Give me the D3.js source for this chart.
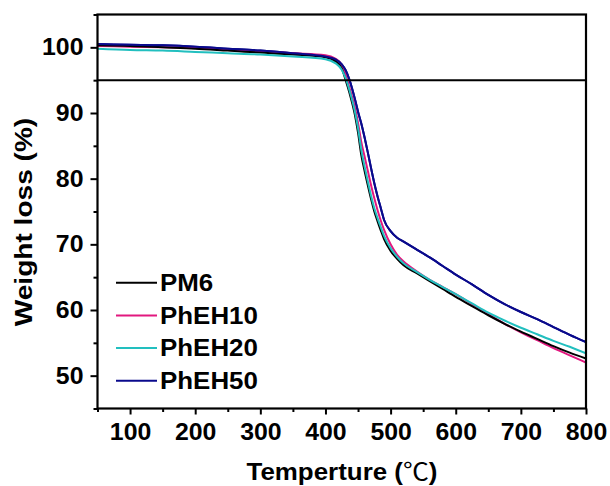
<!DOCTYPE html>
<html>
<head>
<meta charset="utf-8">
<script src="https://cdn.jsdelivr.net/npm/d3@7"></script>
<style>
  html, body { margin: 0; padding: 0; background: #fff; }
  text { font-family: "Liberation Sans", Arial, sans-serif; font-weight: bold; fill: #000; }
</style>
</head>
<body>
<svg id="chart" width="610" height="486"></svg>
<script>
// ---- data ----
const temps = [50,100,150,200,250,300,350,400,415,425,431,437,445,450,455,460,465,470,475,480,485,490,500,510,520,540,560,580,600,625,650,675,700,725,750,775,800];
const PM6    = [100.3,100.2,100.0,99.8,99.5,99.2,98.9,98.5,97.9,96.8,95.0,93.0,89.8,87.0,83.6,81.2,79.0,76.9,75.0,73.5,72.1,70.8,69.0,67.8,66.8,65.6,64.4,63.2,62.0,60.6,59.2,57.9,56.7,55.6,54.5,53.5,52.6];
const PhEH10 = [100.2,100.1,100.0,99.9,99.6,99.4,99.1,98.8,98.3,97.3,95.8,93.8,90.9,88.5,85.6,83.4,81.2,79.0,77.0,75.2,73.6,72.2,70.0,68.4,67.4,65.9,64.6,63.5,62.4,60.9,59.4,57.9,56.6,55.4,54.2,53.1,52.0];
const PhEH20 = [99.8,99.6,99.5,99.3,99.1,98.9,98.6,98.2,97.6,96.6,95.3,93.4,90.3,87.7,84.4,81.9,79.6,77.4,75.5,74.0,72.6,71.3,69.4,68.1,67.1,65.8,64.6,63.5,62.4,61.0,59.6,58.4,57.3,56.3,55.3,54.4,53.4];
const PhEH50 = [100.5,100.4,100.3,100.1,99.8,99.5,99.1,98.6,98.2,97.4,96.5,95.0,92.2,90.2,88.4,86.3,84.0,81.6,79.3,77.3,75.5,73.7,72.0,71.0,70.4,69.2,68.0,66.7,65.4,63.9,62.3,60.9,59.7,58.6,57.4,56.2,55.1];
const seriesNames = ["PM6","PhEH10","PhEH20","PhEH50"];
const seriesColors = ["#000000","#e2187f","#22bfbf","#0a0a8c"];
const xTicks = [100,200,300,400,500,600,700,800];
const yTicks = [50,60,70,80,90,100];
const refLine = 95;

const seriesValues = [PM6, PhEH10, PhEH20, PhEH50];

// ---- layout ----
const svg = d3.select("#chart");
const L = 97.5, R = 586, T = 14.5, B = 408.5;
const SX = 1.08; // horizontal text stretch seen in the reference
const x = d3.scaleLinear().domain([50, 800]).range([L, R]);
const y = d3.scaleLinear().domain([45, 105]).range([B, T]);

const line = d3.line().x(d => x(d[0])).y(d => y(d[1])).curve(d3.curveMonotoneX);
const drawOrder = [3, 1, 0, 2, 3];
const plot = svg.append("g");
plot.append("clipPath").attr("id","clip").append("rect")
  .attr("x", L).attr("y", T).attr("width", R - L).attr("height", B - T);
drawOrder.forEach(i => {
  plot.append("path")
    .datum(temps.map((t, k) => [t, seriesValues[i][k]]))
    .attr("d", line)
    .attr("fill", "none")
    .attr("stroke", seriesColors[i])
    .attr("stroke-width", 2)
    .attr("clip-path", "url(#clip)");
});

// reference line at 95
svg.append("line")
  .attr("x1", x(50)).attr("x2", x(800))
  .attr("y1", y(refLine)).attr("y2", y(refLine))
  .attr("stroke", "#000").attr("stroke-width", 2);

// axes
const xMinor = d3.range(50, 801, 50).filter(v => !xTicks.includes(v));
const yMinor = d3.range(45, 106, 5).filter(v => !yTicks.includes(v));

const gx = svg.append("g").attr("transform", `translate(0,${B})`);
gx.call(d3.axisBottom(x).tickValues(xTicks).tickSize(6).tickPadding(9).tickFormat(d3.format("d")));
const gxm = svg.append("g").attr("transform", `translate(0,${B})`);
gxm.call(d3.axisBottom(x).tickValues(xMinor).tickSize(3.5).tickFormat(""));

const gy = svg.append("g").attr("transform", `translate(${L},0)`);
gy.call(d3.axisLeft(y).tickValues(yTicks).tickSize(7).tickPadding(6).tickFormat(d3.format("d")));
const gym = svg.append("g").attr("transform", `translate(${L},0)`);
gym.call(d3.axisLeft(y).tickValues(yMinor).tickSize(4).tickFormat(""));

[gx, gxm, gy, gym].forEach(g => {
  g.select(".domain").remove();
  g.selectAll(".tick line").attr("stroke", "#000").attr("stroke-width", 2);
  g.selectAll("text")
    .style("font-size", "23px")
    .style("font-family", "'Liberation Sans', Arial, sans-serif")
    .style("font-weight", "bold")
    .attr("fill", "#000")
    .attr("transform", `scale(${SX},1)`);
});

// frame
svg.append("rect")
  .attr("x", L).attr("y", T).attr("width", R - L).attr("height", B - T)
  .attr("fill", "none").attr("stroke", "#000").attr("stroke-width", 2.2);

// axis titles
const xt = svg.append("text")
  .attr("transform", `translate(342,480) scale(${SX},1)`)
  .attr("text-anchor", "middle")
  .style("font-size", "24px");
xt.append("tspan").text("Temperture (");
xt.append("tspan")
  .style("font-family", "'Noto Sans CJK SC', sans-serif")
  .style("font-weight", "normal")
  .text("℃");
xt.append("tspan").text(")");

svg.append("text")
  .attr("transform", `translate(31.5,222) rotate(-90) scale(1.17,1)`)
  .attr("text-anchor", "middle")
  .style("font-size", "24px")
  .text("Weight loss (%)");

// legend
const legY0 = 282.7, legDy = 32.7;
seriesNames.forEach((n, i) => {
  const yy = legY0 + i * legDy;
  svg.append("line").attr("x1", 116).attr("x2", 157).attr("y1", yy).attr("y2", yy)
    .attr("stroke", seriesColors[i]).attr("stroke-width", 2);
  svg.append("text")
    .attr("transform", `translate(160,${yy + 8.3}) scale(${SX},1)`)
    .style("font-size", "24px").text(n);
});
</script>
</body>
</html>
